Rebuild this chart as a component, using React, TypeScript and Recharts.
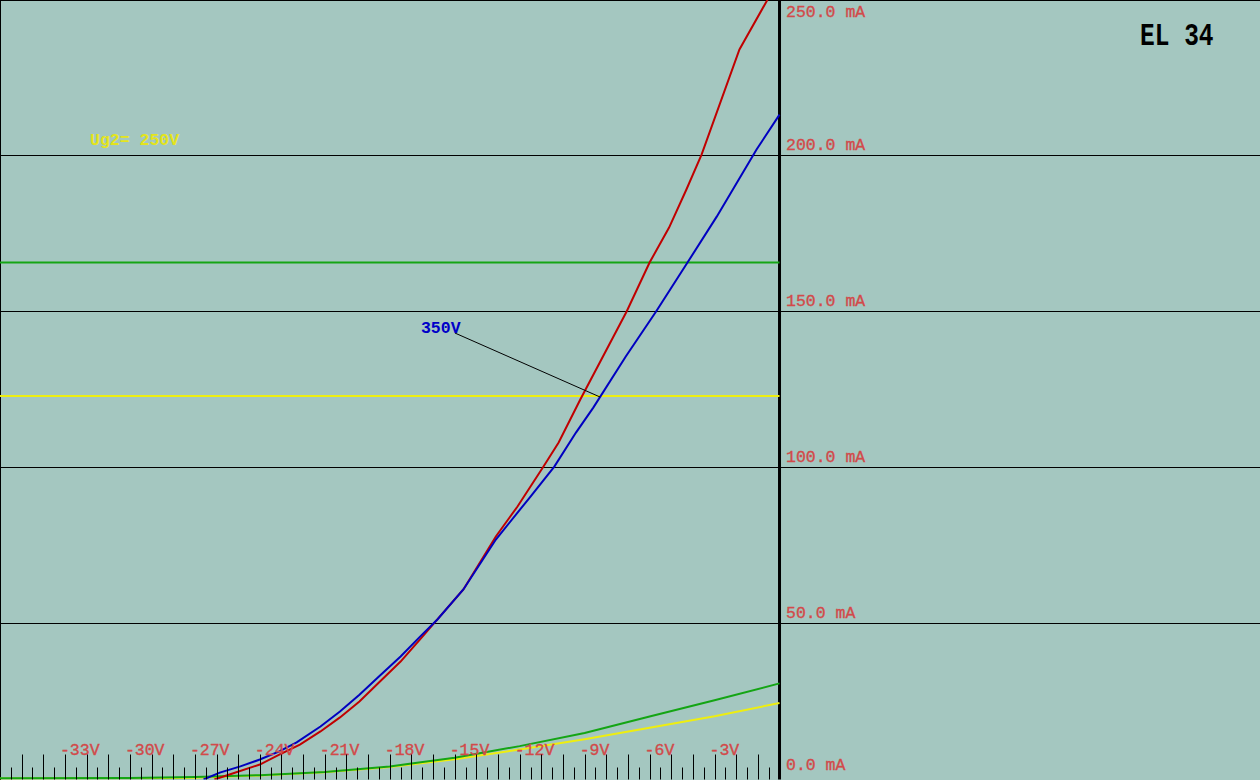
import { LineChart, Line, XAxis, YAxis, ReferenceLine, ReferenceDot } from 'recharts'

// grid voltage range: 0 V sits at the thick axis line, the rest of the width is label space
const X_MIN = -36
const X_MAX = 22.19
const CHART_W = 1260
const CHART_H = 780
const Y_LABEL_X = 786
const AXIS_H = 30
const AXIS_W = 40

const MONO = "'Liberation Mono', 'Courier New', monospace"
const BG = '#a4c7c0'
const LABEL_RED = '#d24a4a'

// anode current, red trace
const redV = [-26.1, -25.4, -24.0, -23.1, -22.15, -21.2, -20.3, -19.4, -18.5, -17.5, -16.6, -15.8, -14.6, -13.1, -12.1, -10.9, -10.2, -9.2, -7.06, -6.0, -5.1, -4.3, -3.6, -1.85, -0.55, 0]
const redI = [0, 1.6, 4.8, 8.0, 11.2, 15.4, 19.9, 25.0, 31.1, 37.8, 44.9, 51.3, 60.9, 77.9, 87.5, 100.3, 108.0, 121.8, 150.0, 165.7, 176.9, 189.1, 200.3, 234.0, 250.0, 258.0]

// anode current, blue trace (350V)
const blueV = [-26.6, -25.85, -24.9, -24.0, -23.1, -22.3, -21.2, -20.3, -19.4, -18.5, -17.5, -16.6, -15.8, -14.6, -13.1, -11.5, -10.4, -9.4, -8.6, -7.1, -5.7, -4.25, -2.9, -1.06, 0]
const blueI = [0, 2.2, 4.2, 6.4, 9.0, 11.9, 17.0, 21.8, 27.2, 33.0, 39.4, 45.8, 51.3, 60.9, 76.9, 90.7, 100.3, 111.2, 119.2, 135.6, 150.0, 165.7, 180.4, 201.9, 213.1]

// screen grid currents near the bottom
const lowV = [-36, -30, -27, -24, -21, -18, -15, -12, -9, -6, -3, 0]
const greenLowI = [0.4, 0.5, 0.8, 1.4, 2.4, 4.2, 7.0, 10.7, 14.9, 20.2, 25.4, 30.8]
const yellowLowI = [0.3, 0.4, 0.6, 1.3, 2.3, 4.0, 6.5, 9.6, 12.9, 16.6, 20.3, 24.5]

// flat reference traces
const flatV = [-36, 0]
const greenFlatI = [165.7, 165.7]
const yellowFlatI = [122.9, 122.9]

const yTicks = [0, 50, 100, 150, 200, 250]
const gridLines = [50, 100, 150, 200]
const xLabelTicks = [-33, -30, -27, -24, -21, -18, -15, -12, -9, -6, -3]
const xTicks = Array.from({ length: 71 }, (_, k) => -35.5 + k * 0.5)

const toPoints = (v: number[], i: number[]) => v.map((x, k) => ({ v: x, i: i[k] }))

const labelText = {
  fill: LABEL_RED,
  stroke: LABEL_RED,
  strokeWidth: 0.35,
  fontFamily: MONO,
  fontSize: 16.5,
}

function XTick(props: any) {
  const { x, y, payload } = props
  const value: number = payload.value
  const major = Number.isInteger(value)
  const px = Math.round(x) + 0.5
  return (
    <g>
      <line x1={px} x2={px} y1={y - (major ? 25 : 12)} y2={y} stroke="#000" strokeWidth={1} />
      {xLabelTicks.includes(value) && (
        <text x={x - 5} y={y - 25} textAnchor="start" {...labelText}>
          {`${value}V`}
        </text>
      )}
    </g>
  )
}

function YTick(props: any) {
  const { y, payload } = props
  const value: number = payload.value
  const dy = value === 250 ? 17.5 : value === 0 ? -10 : -6
  return (
    <text x={Y_LABEL_X} y={y + dy} textAnchor="start" {...labelText}>
      {`${value.toFixed(1)} mA`}
    </text>
  )
}

const lineProps = { type: 'linear' as const, dot: false, activeDot: false, isAnimationActive: false }

export default function App() {
  return (
    <div
      style={{
        position: 'absolute',
        left: 0,
        top: 0,
        width: CHART_W,
        height: CHART_H,
        background: BG,
        boxShadow: 'inset 1px 1px 0 #000',
        overflow: 'hidden',
      }}
    >
      <LineChart
        width={CHART_W}
        height={CHART_H}
        margin={{ top: -0.5, right: 0, bottom: 0.5 - AXIS_H, left: -AXIS_W }}
        style={{ overflow: 'visible' }}
      >
        <XAxis
          type="number"
          dataKey="v"
          domain={[X_MIN, X_MAX]}
          allowDataOverflow
          ticks={xTicks}
          interval={0}
          height={AXIS_H}
          tickSize={0}
          tickMargin={0}
          axisLine={false}
          tickLine={false}
          tick={XTick}
        />
        <YAxis
          type="number"
          domain={[0, 250]}
          allowDataOverflow
          ticks={yTicks}
          interval={0}
          width={AXIS_W}
          tickSize={0}
          tickMargin={0}
          axisLine={false}
          tickLine={false}
          tick={YTick}
        />
        {gridLines.map((g) => (
          <ReferenceLine key={g} y={g} stroke="#000" strokeWidth={1} />
        ))}
        <ReferenceLine x={0} stroke="#000" strokeWidth={3} />

        <Line data={toPoints(flatV, greenFlatI)} dataKey="i" stroke="#14a514" strokeWidth={2} {...lineProps} />
        <Line data={toPoints(flatV, yellowFlatI)} dataKey="i" stroke="#eeee10" strokeWidth={2} {...lineProps} />
        <Line data={toPoints(lowV, yellowLowI)} dataKey="i" stroke="#eeee10" strokeWidth={2} {...lineProps} />
        <Line data={toPoints(lowV, greenLowI)} dataKey="i" stroke="#14a514" strokeWidth={2} {...lineProps} />
        <Line data={toPoints(redV, redI)} dataKey="i" stroke="#c00000" strokeWidth={2} {...lineProps} />
        <Line data={toPoints(blueV, blueI)} dataKey="i" stroke="#0000c0" strokeWidth={2} {...lineProps} />

        <ReferenceLine
          segment={[{ x: -14.99, y: 143.1 }, { x: -8.29, y: 122.6 }]}
          stroke="#000"
          strokeWidth={1}
          ifOverflow="visible"
        />
        <ReferenceDot
          x={-16.56}
          y={143.1}
          ifOverflow="visible"
          shape={(p: any) => (
            <text x={p.cx} y={p.cy} fill="#0000c8" fontFamily={MONO} fontWeight="bold" fontSize={16.5}>
              350V
            </text>
          )}
        />
        <ReferenceDot
          x={-31.84}
          y={203.4}
          ifOverflow="visible"
          shape={(p: any) => (
            <text x={p.cx} y={p.cy} fill="#e4e41c" fontFamily={MONO} fontWeight="bold" fontSize={16.5}>
              Ug2= 250V
            </text>
          )}
        />
        <ReferenceDot
          x={16.65}
          y={235.4}
          ifOverflow="visible"
          shape={(p: any) => (
            <text
              transform={`translate(${p.cx},${p.cy}) scale(1,1.25)`}
              fill="#000"
              fontFamily={MONO}
              fontWeight="bold"
              fontSize={24.5}
            >
              EL 34
            </text>
          )}
        />
      </LineChart>
    </div>
  )
}
